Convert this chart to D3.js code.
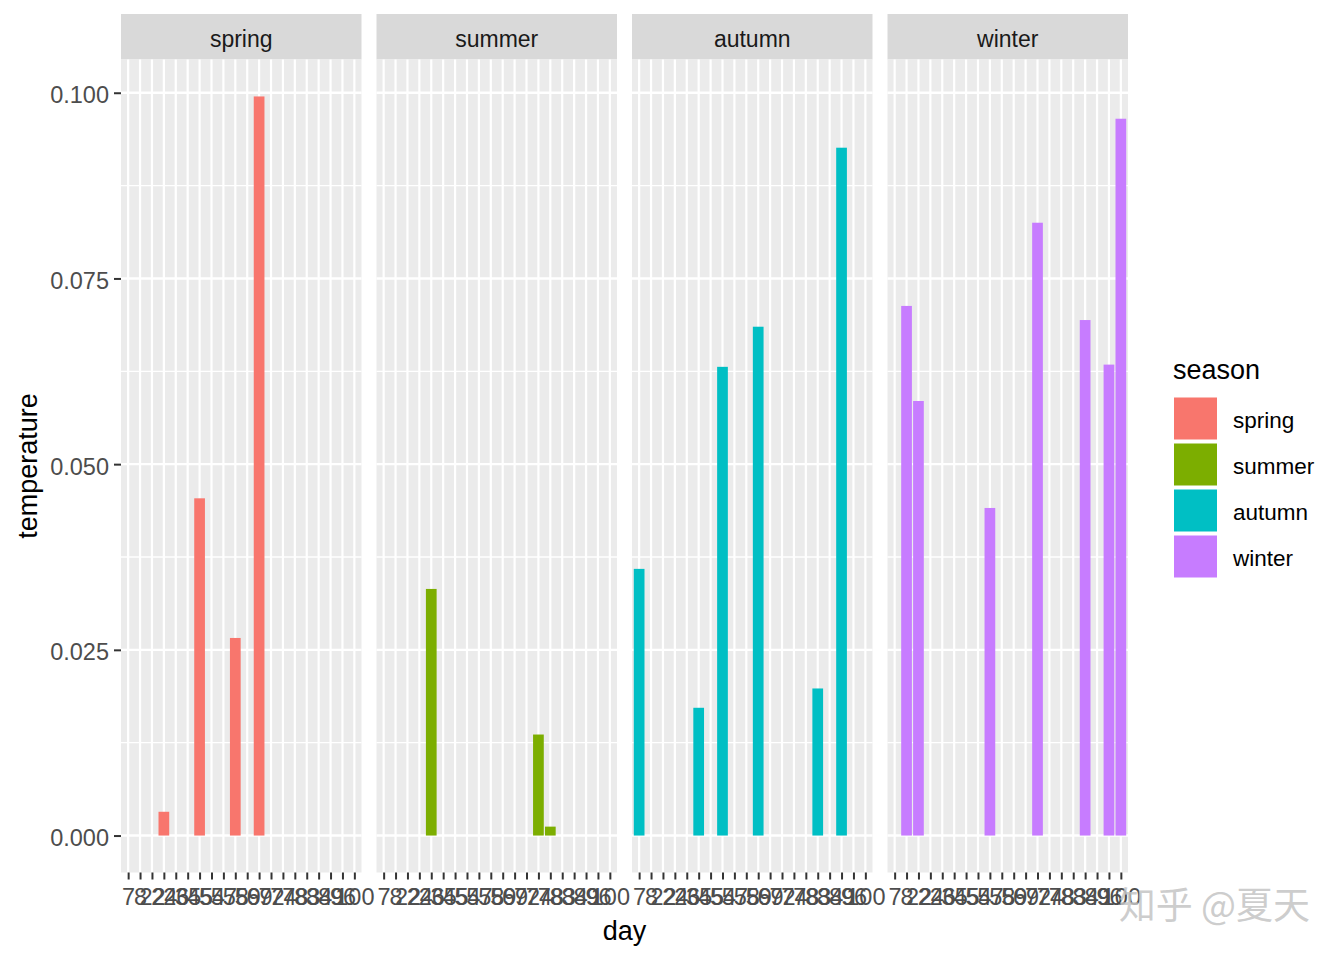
<!DOCTYPE html>
<html lang="en">

<head>
  <meta charset="utf-8">
  <title>temperature by day, faceted by season</title>
  <script src="https://d3js.org/d3.v7.min.js"></script>
  <style>
    body { margin: 0; background: #fff; }
    svg { display: block; font-family: "Liberation Sans", Arial, sans-serif; }
  </style>
</head>

<body>
  <svg width="1344" height="960"></svg>

  <script>
    // data
    var days = ["7", "8", "22", "24", "26", "35", "45", "54", "57", "58",
      "59", "69", "72", "74", "78", "83", "84", "89", "96", "100"];
    var seasons = ["spring", "summer", "autumn", "winter"];
    var colors = ["#F8766D", "#7CAE00", "#00BFC4", "#C77CFF"];
    var yTicks = [0, 0.025, 0.05, 0.075, 0.1];

    var springDays = ["24", "45", "58", "69"];
    var springTemp = [0.0032, 0.0454, 0.0266, 0.0995];
    var summerDays = ["26", "74", "78"];
    var summerTemp = [0.0332, 0.0136, 0.0012];
    var autumnDays = ["7", "35", "54", "59", "83", "89"];
    var autumnTemp = [0.0359, 0.0172, 0.0631, 0.0685, 0.0198, 0.0926];
    var winterDays = ["8", "22", "57", "72", "84", "96", "100"];
    var winterTemp = [0.0713, 0.0585, 0.0441, 0.0825, 0.0694, 0.0634, 0.0965];

    var rows = [];
    [[springDays, springTemp], [summerDays, summerTemp],
     [autumnDays, autumnTemp], [winterDays, winterTemp]].forEach(function (p, i) {
      p[0].forEach(function (d, j) {
        rows.push({ season: seasons[i], day: d, temperature: p[1][j] });
      });
    });

    var svg = d3.select("svg");

    var panelLeft = [121, 376.5, 632, 887.5],
      panelW = 240.5,
      panelTop = 59.5,
      panelBottom = 872.5,
      stripTop = 14;

    var maxT = d3.max(rows, function (d) { return d.temperature; });
    var y = d3.scaleLinear()
      .domain([-0.05 * maxT, maxT * 1.05])
      .range([panelBottom, panelTop]);

    var x = d3.scalePoint()
      .domain(days)
      .range([0, panelW])
      .padding(0.6);
    var barW = x.step() * 0.9;

    var color = d3.scaleOrdinal().domain(seasons).range(colors);

    var minorTicks = yTicks.slice(1).map(function (t, i) { return (t + yTicks[i]) / 2; })
      .concat([yTicks[yTicks.length - 1] + 0.0125]);

    seasons.forEach(function (s, i) {
      var g = svg.append("g").attr("transform", "translate(" + panelLeft[i] + ",0)");

      // strip
      g.append("rect")
        .attr("x", 0).attr("y", stripTop)
        .attr("width", panelW).attr("height", panelTop - stripTop)
        .attr("fill", "#D9D9D9");
      g.append("text")
        .attr("x", panelW / 2).attr("y", (stripTop + panelTop) / 2 + 2)
        .attr("dy", "0.35em")
        .attr("text-anchor", "middle")
        .attr("font-size", 23)
        .attr("fill", "#1A1A1A")
        .text(s);

      // panel + grid
      g.append("rect")
        .attr("x", 0).attr("y", panelTop)
        .attr("width", panelW).attr("height", panelBottom - panelTop)
        .attr("fill", "#EBEBEB");

      g.selectAll(".minor")
        .data(minorTicks.filter(function (t) { return y(t) > panelTop; }))
        .enter().append("line")
        .attr("x1", 0).attr("x2", panelW)
        .attr("y1", function (d) { return y(d); })
        .attr("y2", function (d) { return y(d); })
        .attr("stroke", "#fff").attr("stroke-width", 1.3);

      g.selectAll(".major")
        .data(yTicks)
        .enter().append("line")
        .attr("x1", 0).attr("x2", panelW)
        .attr("y1", function (d) { return y(d); })
        .attr("y2", function (d) { return y(d); })
        .attr("stroke", "#fff").attr("stroke-width", 2.4);

      g.selectAll(".vgrid")
        .data(days)
        .enter().append("line")
        .attr("x1", function (d) { return x(d); })
        .attr("x2", function (d) { return x(d); })
        .attr("y1", panelTop).attr("y2", panelBottom)
        .attr("stroke", "#fff").attr("stroke-width", 2.2);

      // bars
      g.selectAll(".bar")
        .data(rows.filter(function (r) { return r.season === s; }))
        .enter().append("rect")
        .attr("x", function (d) { return x(d.day) - barW / 2; })
        .attr("width", barW)
        .attr("y", function (d) { return y(d.temperature); })
        .attr("height", function (d) { return y(0) - y(d.temperature); })
        .attr("fill", function (d) { return color(d.season); });

      // x axis
      var xa = g.append("g").attr("transform", "translate(0," + panelBottom + ")")
        .call(d3.axisBottom(x).tickSize(7).tickPadding(9));
      xa.select(".domain").remove();
      xa.selectAll(".tick line").attr("stroke", "#333").attr("stroke-width", 2);
      xa.selectAll(".tick text")
        .attr("fill", "#4D4D4D")
        .attr("font-size", 23.5)
        .attr("font-family", "Liberation Sans, Arial, sans-serif");
    });

    // y axis
    var ya = svg.append("g").attr("transform", "translate(" + panelLeft[0] + ",0)")
      .call(d3.axisLeft(y).tickValues(yTicks).tickFormat(d3.format(".3f")).tickSize(7).tickPadding(5));
    ya.select(".domain").remove();
    ya.selectAll(".tick line").attr("stroke", "#333").attr("stroke-width", 2);
    ya.selectAll(".tick text")
      .attr("dy", "0.42em")
      .attr("fill", "#4D4D4D")
      .attr("font-size", 23.5)
      .attr("font-family", "Liberation Sans, Arial, sans-serif");

    // axis titles
    svg.append("text")
      .attr("x", (panelLeft[0] + panelLeft[3] + panelW) / 2)
      .attr("y", 940)
      .attr("text-anchor", "middle")
      .attr("font-size", 27)
      .attr("fill", "#000")
      .text("day");

    svg.append("text")
      .attr("transform", "translate(37," + (panelTop + panelBottom) / 2 + ") rotate(-90)")
      .attr("text-anchor", "middle")
      .attr("font-size", 27)
      .attr("fill", "#000")
      .text("temperature");

    // legend
    var lg = svg.append("g").attr("transform", "translate(1174,0)");
    lg.append("text")
      .attr("x", -1).attr("y", 379)
      .attr("font-size", 27)
      .attr("fill", "#000")
      .text("season");
    var item = lg.selectAll(".key")
      .data(seasons)
      .enter().append("g")
      .attr("transform", function (d, i) { return "translate(0," + (397.5 + i * 46) + ")"; });
    item.append("rect")
      .attr("width", 43).attr("height", 42)
      .attr("fill", function (d) { return color(d); });
    item.append("text")
      .attr("x", 59).attr("y", 23)
      .attr("dy", "0.35em")
      .attr("font-size", 22.5)
      .attr("fill", "#000")
      .text(function (d) { return d; });

    // watermark
    svg.append("text")
      .attr("x", 1310).attr("y", 919)
      .attr("text-anchor", "end")
      .attr("font-family", "Noto Sans CJK SC")
      .attr("font-size", 37)
      .attr("fill", "#c4c4c4")
      .attr("fill-opacity", 0.85)
      .text("知乎 @夏天");
  </script>
</body>

</html>
